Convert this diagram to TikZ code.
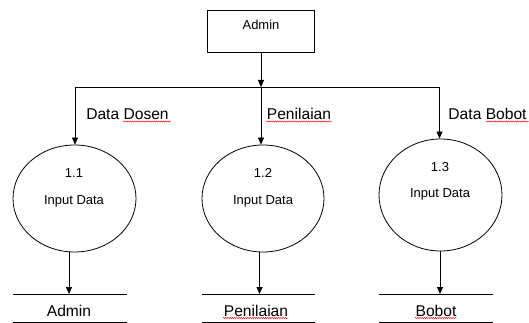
\documentclass[tikz,border=0pt]{standalone}
\usepackage{fontspec}
\setmainfont{Liberation Sans}
\usetikzlibrary{arrows.meta,shapes.geometric,decorations.pathmorphing}
\begin{document}
\begin{tikzpicture}[x=1pt,y=-1pt,
  line width=0.8pt,
  arr/.style={-{Triangle[length=7pt,width=6pt]}},
  proc/.style={draw, ellipse, inner sep=0pt},
  ent/.style={draw, minimum width=107pt, minimum height=42pt, inner sep=0pt},
  lbl/.style={font=\fontsize{15.6}{18}\selectfont, inner sep=0pt},
  small/.style={font=\fontsize{13}{15}\selectfont, inner sep=0pt},
  storeline/.style={line width=0.8pt},
  spell/.style={red, line width=0.45pt, decorate, decoration={snake, amplitude=0.6pt, segment length=2.2pt}}]
\useasboundingbox (0,0) rectangle (529,323);

% external entity
\node[ent] (admin) at (261,31) {};
\node[small] (adminlbl) at (261,25) {Admin};

% junction line
\coordinate (jl) at (75,87);
\coordinate (jm) at (261,87);
\coordinate (jr) at (439.5,87);
\draw (jl) -- (jr);
\draw[arr] (admin.south) -- (jm);

% processes
\node[proc, minimum width=123pt, minimum height=107pt] (p1) at (74.5,198.5) {};
\node[small] (p1n) at (74,173) {1.1};
\node[small] (p1t) at (74,201) {Input Data};

\node[proc, minimum width=122pt, minimum height=107pt] (p2) at (263,198.5) {};
\node[small] (p2n) at (263,173) {1.2};
\node[small] (p2t) at (263,201) {Input Data};

\node[proc, minimum width=123pt, minimum height=112pt] (p3) at (440.5,195) {};
\node[small] (p3n) at (440,167) {1.3};
\node[small] (p3t) at (440,194) {Input Data};

% flows down to processes
\draw[arr] (jl) -- (jl |- p1.north);
\draw[arr] (jm) -- (jm |- p2.north);
\draw[arr] (jr) -- (jr |- p3.north);

% flow labels
\node[lbl] (f1) at (127.5,114) {Data Dosen};
\node[lbl] (f2) at (299,114) {Penilaian};
\node[lbl] (f3) at (487.5,114) {Data Bobot};

% data stores
\coordinate (s1a) at (13,294);  \coordinate (s1b) at (127,294);
\coordinate (s1c) at (13,322);  \coordinate (s1d) at (127,322);
\coordinate (s2a) at (202,294); \coordinate (s2b) at (315,294);
\coordinate (s2c) at (202,322); \coordinate (s2d) at (315,322);
\coordinate (s3a) at (379,294); \coordinate (s3b) at (493,294);
\coordinate (s3c) at (379,322); \coordinate (s3d) at (493,322);
\draw[storeline] (s1a) -- (s1b) (s1c) -- (s1d);
\draw[storeline] (s2a) -- (s2b) (s2c) -- (s2d);
\draw[storeline] (s3a) -- (s3b) (s3c) -- (s3d);
\node[lbl] (s1) at (69,311) {Admin};
\node[lbl] (s2) at (256,311) {Penilaian};
\node[lbl] (s3) at (436,311) {Bobot};

% flows down to stores
\coordinate (b1) at (69,294);
\coordinate (b2) at (259.5,294);
\coordinate (b3) at (440,294);
\draw[arr] (b1 |- p1.south) -- (b1);
\draw[arr] (b2 |- p2.south) -- (b2);
\draw[arr] (b3 |- p3.south) -- (b3);

% spell-check underlines
\draw[spell] (123,121.5) -- (171,121.5);
\draw[spell] (266,121.5) -- (332,121.5);
\draw[spell] (486,121.5) -- (529,121.5);
\draw[spell] (223,318) -- (288,318);
\draw[spell] (415,318) -- (457,318);
\end{tikzpicture}
\end{document}
